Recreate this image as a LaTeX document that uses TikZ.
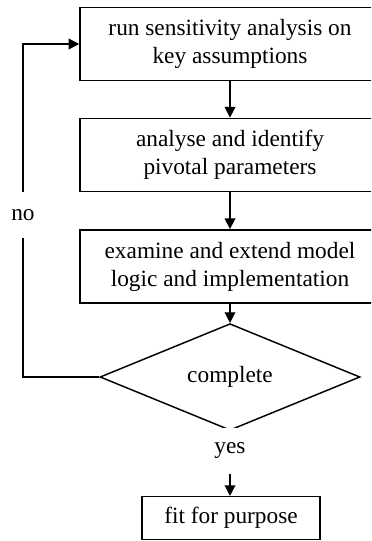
\documentclass[tikz,border=0pt]{standalone}
\usepackage{fontspec}
\setmainfont{Liberation Serif}
\usetikzlibrary{shapes.geometric,arrows.meta}
\begin{document}
\begin{tikzpicture}[x=0.75pt,y=-0.75pt,
  every node/.style={font=\fontsize{17.5}{21}\selectfont},
  stepbox/.style={draw,line width=1.1pt,minimum width=225pt,minimum height=55pt,align=center,inner sep=0pt},
  decide/.style={draw,line width=1.1pt,diamond,minimum width=195pt,minimum height=55.5pt,inner sep=0pt},
  conn/.style={line width=1.1pt,-{Triangle[length=8pt,width=8pt]}},
  lbl/.style={fill=white,inner sep=0pt,minimum height=34pt,minimum width=20pt}]
\useasboundingbox (0,0) rectangle (371,541);
\clip (0,0) rectangle (371,541);
\node[stepbox] (b1) at (230,44) {run sensitivity analysis on\\key assumptions};
\node[stepbox] (b2) at (230,155) {analyse and identify\\pivotal parameters};
\node[stepbox] (b3) at (230,266.5) {examine and extend model\\logic and implementation};
\node[decide] (d) at (230,377) {complete};
\node[draw,line width=1.1pt,minimum width=133.5pt,minimum height=32pt,inner sep=0pt] (f) at (231,518) {fit for purpose};
\coordinate (fb) at (23,377);
\draw[conn] (b1) -- (b2);
\draw[conn] (b2) -- (b3);
\draw[conn] (b3) -- (d);
\draw[conn] (d.west) -- (fb) |- (b1.west);
\node[lbl] (no) at (23,215) {no};
\draw[conn] (d.south) -- (f.north -| d.south);
\node[lbl] (yes) at (230,451) {yes};
\end{tikzpicture}
\end{document}
